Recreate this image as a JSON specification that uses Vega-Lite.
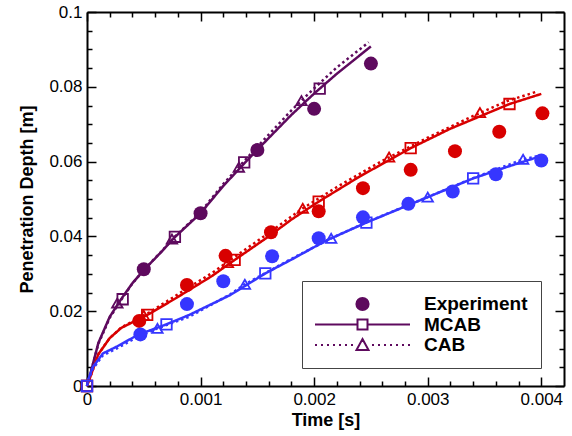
{
  "$schema": "https://vega.github.io/schema/vega-lite/v6.json",
  "width": 477,
  "height": 374,
  "autosize": {"type": "none"},
  "padding": {"left": 87, "top": 12, "right": 8, "bottom": 50},
  "datasets": {
    "lines": [
      {"run": "R1", "series": "MCAB", "t": 0, "d": 0},
      {"run": "R1", "series": "MCAB", "t": 0.00003, "d": 0.0033},
      {"run": "R1", "series": "MCAB", "t": 0.0001, "d": 0.0115},
      {"run": "R1", "series": "MCAB", "t": 0.0002, "d": 0.0185},
      {"run": "R1", "series": "MCAB", "t": 0.0003, "d": 0.0232},
      {"run": "R1", "series": "MCAB", "t": 0.0004, "d": 0.0275},
      {"run": "R1", "series": "MCAB", "t": 0.0005, "d": 0.031},
      {"run": "R1", "series": "MCAB", "t": 0.00065, "d": 0.0357},
      {"run": "R1", "series": "MCAB", "t": 0.00077, "d": 0.0397},
      {"run": "R1", "series": "MCAB", "t": 0.001, "d": 0.0462},
      {"run": "R1", "series": "MCAB", "t": 0.0012, "d": 0.0535},
      {"run": "R1", "series": "MCAB", "t": 0.0014, "d": 0.06},
      {"run": "R1", "series": "MCAB", "t": 0.0016, "d": 0.0663},
      {"run": "R1", "series": "MCAB", "t": 0.0018, "d": 0.0725},
      {"run": "R1", "series": "MCAB", "t": 0.002, "d": 0.0782},
      {"run": "R1", "series": "MCAB", "t": 0.0022, "d": 0.0835},
      {"run": "R1", "series": "MCAB", "t": 0.0025, "d": 0.0908},
      {"run": "R1", "series": "CAB", "t": 0, "d": 0},
      {"run": "R1", "series": "CAB", "t": 0.00003, "d": 0.0033},
      {"run": "R1", "series": "CAB", "t": 0.0001, "d": 0.0113},
      {"run": "R1", "series": "CAB", "t": 0.0002, "d": 0.0182},
      {"run": "R1", "series": "CAB", "t": 0.0003, "d": 0.023},
      {"run": "R1", "series": "CAB", "t": 0.0004, "d": 0.0274},
      {"run": "R1", "series": "CAB", "t": 0.0005, "d": 0.031},
      {"run": "R1", "series": "CAB", "t": 0.00065, "d": 0.0358},
      {"run": "R1", "series": "CAB", "t": 0.00077, "d": 0.0398},
      {"run": "R1", "series": "CAB", "t": 0.001, "d": 0.0465},
      {"run": "R1", "series": "CAB", "t": 0.0012, "d": 0.054},
      {"run": "R1", "series": "CAB", "t": 0.0014, "d": 0.0607},
      {"run": "R1", "series": "CAB", "t": 0.0016, "d": 0.0672},
      {"run": "R1", "series": "CAB", "t": 0.0018, "d": 0.0737},
      {"run": "R1", "series": "CAB", "t": 0.002, "d": 0.0796},
      {"run": "R1", "series": "CAB", "t": 0.0022, "d": 0.0852},
      {"run": "R1", "series": "CAB", "t": 0.00248, "d": 0.0919},
      {"run": "R2", "series": "MCAB", "t": 0, "d": 0},
      {"run": "R2", "series": "MCAB", "t": 0.00003, "d": 0.0025},
      {"run": "R2", "series": "MCAB", "t": 0.0001, "d": 0.0085},
      {"run": "R2", "series": "MCAB", "t": 0.0002, "d": 0.0128},
      {"run": "R2", "series": "MCAB", "t": 0.0003, "d": 0.0155},
      {"run": "R2", "series": "MCAB", "t": 0.00045, "d": 0.0178},
      {"run": "R2", "series": "MCAB", "t": 0.00055, "d": 0.0193},
      {"run": "R2", "series": "MCAB", "t": 0.0008, "d": 0.0238},
      {"run": "R2", "series": "MCAB", "t": 0.0011, "d": 0.0294},
      {"run": "R2", "series": "MCAB", "t": 0.0013, "d": 0.0337},
      {"run": "R2", "series": "MCAB", "t": 0.0016, "d": 0.04},
      {"run": "R2", "series": "MCAB", "t": 0.0018, "d": 0.0445},
      {"run": "R2", "series": "MCAB", "t": 0.00204, "d": 0.0493},
      {"run": "R2", "series": "MCAB", "t": 0.0024, "d": 0.056},
      {"run": "R2", "series": "MCAB", "t": 0.00285, "d": 0.0636},
      {"run": "R2", "series": "MCAB", "t": 0.0032, "d": 0.0688},
      {"run": "R2", "series": "MCAB", "t": 0.00372, "d": 0.0754},
      {"run": "R2", "series": "MCAB", "t": 0.004, "d": 0.0781},
      {"run": "R2", "series": "CAB", "t": 0, "d": 0},
      {"run": "R2", "series": "CAB", "t": 0.00003, "d": 0.0025},
      {"run": "R2", "series": "CAB", "t": 0.0001, "d": 0.0085},
      {"run": "R2", "series": "CAB", "t": 0.0002, "d": 0.0128},
      {"run": "R2", "series": "CAB", "t": 0.0003, "d": 0.0156},
      {"run": "R2", "series": "CAB", "t": 0.00045, "d": 0.0181},
      {"run": "R2", "series": "CAB", "t": 0.00055, "d": 0.0197},
      {"run": "R2", "series": "CAB", "t": 0.0008, "d": 0.0245},
      {"run": "R2", "series": "CAB", "t": 0.0011, "d": 0.0302},
      {"run": "R2", "series": "CAB", "t": 0.0013, "d": 0.0345},
      {"run": "R2", "series": "CAB", "t": 0.0016, "d": 0.0409},
      {"run": "R2", "series": "CAB", "t": 0.0019, "d": 0.0475},
      {"run": "R2", "series": "CAB", "t": 0.0022, "d": 0.0532},
      {"run": "R2", "series": "CAB", "t": 0.0026, "d": 0.0602},
      {"run": "R2", "series": "CAB", "t": 0.003, "d": 0.0664},
      {"run": "R2", "series": "CAB", "t": 0.0034, "d": 0.0722},
      {"run": "R2", "series": "CAB", "t": 0.0037, "d": 0.0762},
      {"run": "R2", "series": "CAB", "t": 0.00396, "d": 0.0787},
      {"run": "R3", "series": "MCAB", "t": 0, "d": 0},
      {"run": "R3", "series": "MCAB", "t": 0.00001, "d": 0.0016},
      {"run": "R3", "series": "MCAB", "t": 0.00005, "d": 0.005},
      {"run": "R3", "series": "MCAB", "t": 0.00014, "d": 0.0087},
      {"run": "R3", "series": "MCAB", "t": 0.00026, "d": 0.0105},
      {"run": "R3", "series": "MCAB", "t": 0.00045, "d": 0.0137},
      {"run": "R3", "series": "MCAB", "t": 0.0007, "d": 0.0165},
      {"run": "R3", "series": "MCAB", "t": 0.0009, "d": 0.019},
      {"run": "R3", "series": "MCAB", "t": 0.00126, "d": 0.0243},
      {"run": "R3", "series": "MCAB", "t": 0.00157, "d": 0.0301},
      {"run": "R3", "series": "MCAB", "t": 0.0018, "d": 0.0338},
      {"run": "R3", "series": "MCAB", "t": 0.0021, "d": 0.0388},
      {"run": "R3", "series": "MCAB", "t": 0.00246, "d": 0.0437},
      {"run": "R3", "series": "MCAB", "t": 0.003, "d": 0.0505},
      {"run": "R3", "series": "MCAB", "t": 0.0034, "d": 0.0555},
      {"run": "R3", "series": "MCAB", "t": 0.0037, "d": 0.0586},
      {"run": "R3", "series": "MCAB", "t": 0.004, "d": 0.0615},
      {"run": "R3", "series": "CAB", "t": 0, "d": 0},
      {"run": "R3", "series": "CAB", "t": 0.00001, "d": 0.0014},
      {"run": "R3", "series": "CAB", "t": 0.00005, "d": 0.0045},
      {"run": "R3", "series": "CAB", "t": 0.00014, "d": 0.0082},
      {"run": "R3", "series": "CAB", "t": 0.00026, "d": 0.01},
      {"run": "R3", "series": "CAB", "t": 0.00045, "d": 0.0132},
      {"run": "R3", "series": "CAB", "t": 0.00062, "d": 0.0154},
      {"run": "R3", "series": "CAB", "t": 0.0009, "d": 0.0185},
      {"run": "R3", "series": "CAB", "t": 0.00126, "d": 0.0245},
      {"run": "R3", "series": "CAB", "t": 0.00139, "d": 0.0272},
      {"run": "R3", "series": "CAB", "t": 0.0018, "d": 0.034},
      {"run": "R3", "series": "CAB", "t": 0.00215, "d": 0.0395},
      {"run": "R3", "series": "CAB", "t": 0.0025, "d": 0.0443},
      {"run": "R3", "series": "CAB", "t": 0.003, "d": 0.0505},
      {"run": "R3", "series": "CAB", "t": 0.0034, "d": 0.0556},
      {"run": "R3", "series": "CAB", "t": 0.00384, "d": 0.0606},
      {"run": "R3", "series": "CAB", "t": 0.004, "d": 0.0617}
    ],
    "markers": [
      {"run": "R1", "series": "MCAB", "t": 0, "d": 0},
      {"run": "R1", "series": "MCAB", "t": 0.000314, "d": 0.0232},
      {"run": "R1", "series": "MCAB", "t": 0.000774, "d": 0.0399},
      {"run": "R1", "series": "MCAB", "t": 0.001384, "d": 0.0598},
      {"run": "R1", "series": "MCAB", "t": 0.002049, "d": 0.0795},
      {"run": "R1", "series": "CAB", "t": 0.000267, "d": 0.0222},
      {"run": "R1", "series": "CAB", "t": 0.000748, "d": 0.0393},
      {"run": "R1", "series": "CAB", "t": 0.001337, "d": 0.0585},
      {"run": "R1", "series": "CAB", "t": 0.001888, "d": 0.0763},
      {"run": "R2", "series": "MCAB", "t": 0, "d": 0},
      {"run": "R2", "series": "MCAB", "t": 0.00053, "d": 0.019},
      {"run": "R2", "series": "MCAB", "t": 0.0013, "d": 0.0337},
      {"run": "R2", "series": "MCAB", "t": 0.00204, "d": 0.0493},
      {"run": "R2", "series": "MCAB", "t": 0.00285, "d": 0.0636},
      {"run": "R2", "series": "MCAB", "t": 0.00372, "d": 0.0754},
      {"run": "R2", "series": "CAB", "t": 0.0005, "d": 0.0189},
      {"run": "R2", "series": "CAB", "t": 0.00124, "d": 0.033},
      {"run": "R2", "series": "CAB", "t": 0.0019, "d": 0.0475},
      {"run": "R2", "series": "CAB", "t": 0.00266, "d": 0.0612},
      {"run": "R2", "series": "CAB", "t": 0.00346, "d": 0.0731},
      {"run": "R3", "series": "MCAB", "t": 0, "d": 0},
      {"run": "R3", "series": "MCAB", "t": 0.0007, "d": 0.0165},
      {"run": "R3", "series": "MCAB", "t": 0.00157, "d": 0.0301},
      {"run": "R3", "series": "MCAB", "t": 0.00246, "d": 0.0437},
      {"run": "R3", "series": "MCAB", "t": 0.0034, "d": 0.0555},
      {"run": "R3", "series": "CAB", "t": 0.00062, "d": 0.0154},
      {"run": "R3", "series": "CAB", "t": 0.00139, "d": 0.0272},
      {"run": "R3", "series": "CAB", "t": 0.00215, "d": 0.0395},
      {"run": "R3", "series": "CAB", "t": 0.003, "d": 0.0505},
      {"run": "R3", "series": "CAB", "t": 0.00384, "d": 0.0606}
    ],
    "experiment": [
      {"run": "R1", "series": "Experiment", "t": 0.0005, "d": 0.0312},
      {"run": "R1", "series": "Experiment", "t": 0.001, "d": 0.0462},
      {"run": "R1", "series": "Experiment", "t": 0.0015, "d": 0.0631},
      {"run": "R1", "series": "Experiment", "t": 0.002, "d": 0.0741},
      {"run": "R1", "series": "Experiment", "t": 0.0025, "d": 0.0862},
      {"run": "R2", "series": "Experiment", "t": 0.00046, "d": 0.0174},
      {"run": "R2", "series": "Experiment", "t": 0.00088, "d": 0.027},
      {"run": "R2", "series": "Experiment", "t": 0.00122, "d": 0.0348},
      {"run": "R2", "series": "Experiment", "t": 0.00162, "d": 0.0411},
      {"run": "R2", "series": "Experiment", "t": 0.00204, "d": 0.0467},
      {"run": "R2", "series": "Experiment", "t": 0.00243, "d": 0.0529},
      {"run": "R2", "series": "Experiment", "t": 0.00285, "d": 0.0578},
      {"run": "R2", "series": "Experiment", "t": 0.00324, "d": 0.0628},
      {"run": "R2", "series": "Experiment", "t": 0.00363, "d": 0.068},
      {"run": "R2", "series": "Experiment", "t": 0.00401, "d": 0.0729},
      {"run": "R3", "series": "Experiment", "t": 0.00047, "d": 0.0138},
      {"run": "R3", "series": "Experiment", "t": 0.00088, "d": 0.0219},
      {"run": "R3", "series": "Experiment", "t": 0.0012, "d": 0.028},
      {"run": "R3", "series": "Experiment", "t": 0.00163, "d": 0.0347},
      {"run": "R3", "series": "Experiment", "t": 0.00204, "d": 0.0395},
      {"run": "R3", "series": "Experiment", "t": 0.00243, "d": 0.0451},
      {"run": "R3", "series": "Experiment", "t": 0.00283, "d": 0.0487},
      {"run": "R3", "series": "Experiment", "t": 0.00322, "d": 0.052},
      {"run": "R3", "series": "Experiment", "t": 0.0036, "d": 0.0566},
      {"run": "R3", "series": "Experiment", "t": 0.004, "d": 0.0603}
    ]
  },
  "config": {
    "view": {"stroke": null},
    "axis": {
      "domain": false,
      "domainColor": "black",
      "domainWidth": 2,
      "grid": false,
      "tickColor": "black",
      "tickWidth": 1.5,
      "labelFont": "Liberation Sans",
      "labelFontSize": 17,
      "labelColor": "black",
      "titleFont": "Liberation Sans",
      "titleFontSize": 18,
      "titleFontWeight": "bold",
      "titleColor": "black",
      "labelFlush": false,
      "labelOverlap": false
    }
  },
  "layer": [
    {
      "layer": [
        {
          "data": {"name": "lines"},
          "mark": {"type": "line", "strokeWidth": 2.5, "opacity": 1},
          "encoding": {
            "x": {"field": "t", "type": "quantitative", "scale": {"domain": [0, 0.0042], "nice": false, "zero": false},
              "axis": {"orient": "bottom", "title": "Time [s]", "titlePadding": 4, "labelPadding": 14, "labelOverlap": false,
                "domain": true, "tickSize": -9, "format": ".3~f",
                "values": [0, 0.001, 0.002, 0.003, 0.004]}},
            "y": {"field": "d", "type": "quantitative", "scale": {"domain": [0, 0.1], "nice": false, "zero": false},
              "axis": {"orient": "left", "title": "Penetration Depth [m]", "titlePadding": 12, "labelPadding": 14, "labelOverlap": false,
                "domain": true, "tickSize": -9, "format": ".2~f",
                "values": [0, 0.02, 0.04, 0.06, 0.08, 0.1]}},
            "color": {"field": "run", "type": "nominal", "scale": {"domain": ["R1", "R2", "R3"], "range": ["#5e0a5e", "#d80000", "#3636ff"]}, "legend": null},
            "strokeDash": {"field": "series", "type": "nominal", "scale": {"domain": ["MCAB", "CAB"], "range": [[1, 0], [2.5, 3]]}, "legend": null},
            "detail": {"field": "run"}
          }
        },
        {
          "data": {"name": "markers"},
          "mark": {"type": "point", "filled": false, "strokeWidth": 1.8, "size": 110, "opacity": 1},
          "encoding": {
            "x": {"field": "t", "type": "quantitative", "scale": {"domain": [0, 0.0042], "nice": false, "zero": false}},
            "y": {"field": "d", "type": "quantitative", "scale": {"domain": [0, 0.1], "nice": false, "zero": false}},
            "color": {"field": "run", "type": "nominal", "scale": {"domain": ["R1", "R2", "R3"], "range": ["#5e0a5e", "#d80000", "#3636ff"]}, "legend": null},
            "shape": {"field": "series", "type": "nominal", "scale": {"domain": ["MCAB", "CAB"], "range": ["square", "triangle-up"]}, "legend": null}
          }
        },
        {
          "data": {"name": "experiment"},
          "mark": {"type": "point", "shape": "circle", "filled": true, "size": 196},
          "encoding": {
            "x": {"field": "t", "type": "quantitative", "scale": {"domain": [0, 0.0042], "nice": false, "zero": false}},
            "y": {"field": "d", "type": "quantitative", "scale": {"domain": [0, 0.1], "nice": false, "zero": false}},
            "color": {"field": "run", "type": "nominal", "scale": {"domain": ["R1", "R2", "R3"], "range": ["#5e0a5e", "#d80000", "#3636ff"]}, "legend": null},
            "opacity": {"field": "series", "type": "ordinal", "scale": {"domain": ["Experiment", "MCAB", "CAB"], "range": [1, 1, 1]},
              "legend": {
                "title": null,
                "orient": "none",
                "legendX": 215,
                "legendY": 269,
                "padding": 13,
                "strokeColor": "#444444",
                "symbolSize": 1089,
                "symbolStrokeWidth": 2,
                "symbolOffset": 30,
                "clipHeight": 20,
                "symbolStrokeColor": "#5e0a5e",
                "symbolFillColor": {"expr": "datum.value === 'Experiment' ? '#5e0a5e' : 'transparent'"},
                "symbolType": {"expr": "datum.value === 'Experiment' ? 'M-0.37,0A0.37,0.37 0 1,0 0.37,0A0.37,0.37 0 1,0 -0.37,0Z' : datum.value === 'MCAB' ? 'M-2.88,0H-0.303M-0.303,-0.303H0.303V0.303H-0.303ZM0.303,0H2.88' : 'M-2.88,0h0.121M-2.516,0h0.121M-2.152,0h0.121M-1.788,0h0.121M-1.424,0h0.121M-1.06,0h0.121M-0.696,0h0.121M0.575,0h0.121M0.939,0h0.121M1.303,0h0.121M1.667,0h0.121M2.031,0h0.121M2.395,0h0.121M2.759,0h0.121M0,-0.364L0.364,0.303L-0.364,0.303Z'"},
                "labelOffset": 44,
                "labelFont": "Liberation Sans",
                "labelFontSize": 19,
                "labelFontWeight": "bold",
                "labelColor": "black",
                "rowPadding": 0.5
              }
            }
          }
        }
      ]
    },
    {
      "data": {"name": "experiment"},
      "mark": {"type": "point", "opacity": 0},
      "encoding": {
        "x": {"field": "t", "type": "quantitative", "scale": {"domain": [0, 0.0042], "nice": false, "zero": false},
          "axis": {"orient": "bottom", "title": null, "labels": false, "domain": false, "tickSize": -5,
            "values": [0.0002,0.0004,0.0006,0.0008,0.0012,0.0014,0.0016,0.0018,0.0022,0.0024,0.0026,0.0028,0.0032,0.0034,0.0036,0.0038]}},
        "y": {"field": "d", "type": "quantitative", "scale": {"domain": [0, 0.1], "nice": false, "zero": false},
          "axis": {"orient": "left", "title": null, "labels": false, "domain": false, "tickSize": -5,
            "values": [0.005,0.01,0.015,0.025,0.03,0.035,0.045,0.05,0.055,0.065,0.07,0.075,0.085,0.09,0.095]}}
      }
    },
    {
      "data": {"name": "experiment"},
      "mark": {"type": "point", "opacity": 0},
      "encoding": {
        "x": {"field": "t", "type": "quantitative", "scale": {"domain": [0, 0.0042], "nice": false, "zero": false},
          "axis": {"orient": "top", "title": null, "labels": false, "domain": true, "tickSize": -9,
            "values": [0, 0.001, 0.002, 0.003, 0.004]}},
        "y": {"field": "d", "type": "quantitative", "scale": {"domain": [0, 0.1], "nice": false, "zero": false},
          "axis": {"orient": "right", "title": null, "labels": false, "domain": true, "tickSize": -9,
            "values": [0, 0.02, 0.04, 0.06, 0.08, 0.1]}}
      }
    },
    {
      "data": {"name": "experiment"},
      "mark": {"type": "point", "opacity": 0},
      "encoding": {
        "x": {"field": "t", "type": "quantitative", "scale": {"domain": [0, 0.0042], "nice": false, "zero": false},
          "axis": {"orient": "top", "title": null, "labels": false, "domain": false, "tickSize": -5,
            "values": [0.0002,0.0004,0.0006,0.0008,0.0012,0.0014,0.0016,0.0018,0.0022,0.0024,0.0026,0.0028,0.0032,0.0034,0.0036,0.0038]}},
        "y": {"field": "d", "type": "quantitative", "scale": {"domain": [0, 0.1], "nice": false, "zero": false},
          "axis": {"orient": "right", "title": null, "labels": false, "domain": false, "tickSize": -5,
            "values": [0.005,0.01,0.015,0.025,0.03,0.035,0.045,0.05,0.055,0.065,0.07,0.075,0.085,0.09,0.095]}}
      }
    }
  ],
  "resolve": {"axis": {"x": "independent", "y": "independent"}}
}
